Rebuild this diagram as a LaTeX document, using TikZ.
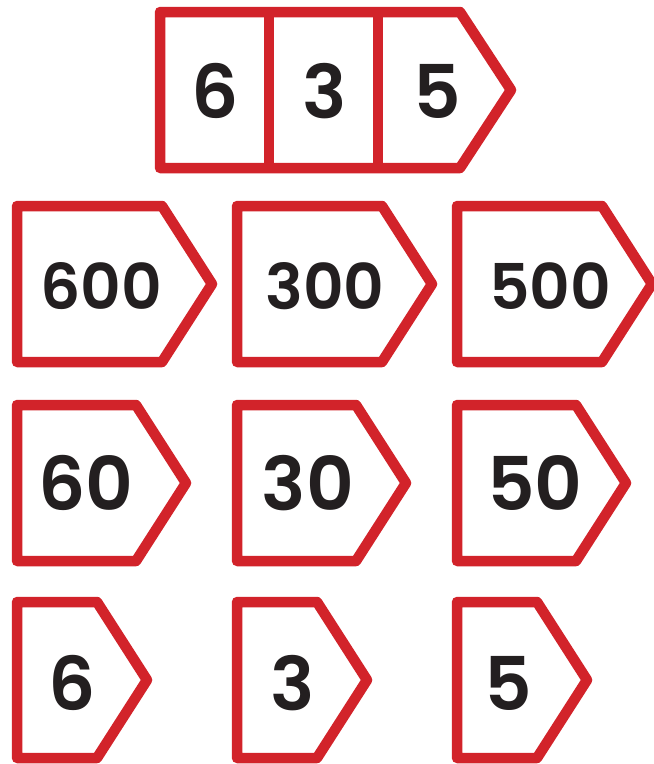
\documentclass[tikz,border=0pt]{standalone}
\usepackage{fontspec}
\newfontfamily\numfont{Poppins SemiBold}
\definecolor{cardred}{HTML}{D2232A}
\definecolor{numink}{HTML}{231F20}
\tikzset{
  card/.style={draw=cardred, line width=10.5pt, line join=round, fill=white},
  divider/.style={draw=cardred, line width=10.5pt},
  bignum/.style={inner sep=0pt, text=numink, font=\numfont\fontsize{74}{74}\selectfont},
  midnum/.style={inner sep=0pt, text=numink, font=\numfont\fontsize{63}{63}\selectfont}
}
% one arrow card: left, top, width of the box part
\newcommand{\arrowcard}[3]{%
  \draw[card] (#1,#2) -- ++(#3,0) -- ++(50,78) -- ++(-50,78) -- ++(-#3,0) -- cycle;}
\begin{document}
\begin{tikzpicture}[x=1pt, y=-1pt]
\useasboundingbox (0,0) rectangle (654,764);

% place value card 635
\draw[card] (160,12) -- ++(300,0) -- ++(51,78) -- ++(-51,78) -- ++(-300,0) -- cycle;
\draw[divider] (269,12) -- (269,168);
\draw[divider] (378,12) -- (378,168);
\node[bignum] (top6) at (215,91) {6};
\node[bignum] (top3) at (325,91) {3};
\node[bignum] (top5) at (437,91) {5};

% hundreds
\arrowcard{17}{206}{145}
\arrowcard{237}{206}{145}
\arrowcard{457}{206}{145}
\node[midnum] (h600) at (101,286) {600};
\node[midnum] (h300) at (325,286) {300};
\node[midnum] (h500) at (550,286) {500};

% tens
\arrowcard{17}{405}{119}
\arrowcard{237}{405}{119}
\arrowcard{457}{405}{119}
\node[bignum] (t60) at (86,483) {60};
\node[bignum] (t30) at (308,483) {30};
\node[bignum] (t50) at (535,483) {50};

% ones
\arrowcard{17}{602}{80}
\arrowcard{237}{602}{80}
\arrowcard{457}{602}{80}
\node[bignum] (o6) at (72,683) {6};
\node[bignum] (o3) at (293,683) {3};
\node[bignum] (o5) at (508,683) {5};
\end{tikzpicture}
\end{document}
